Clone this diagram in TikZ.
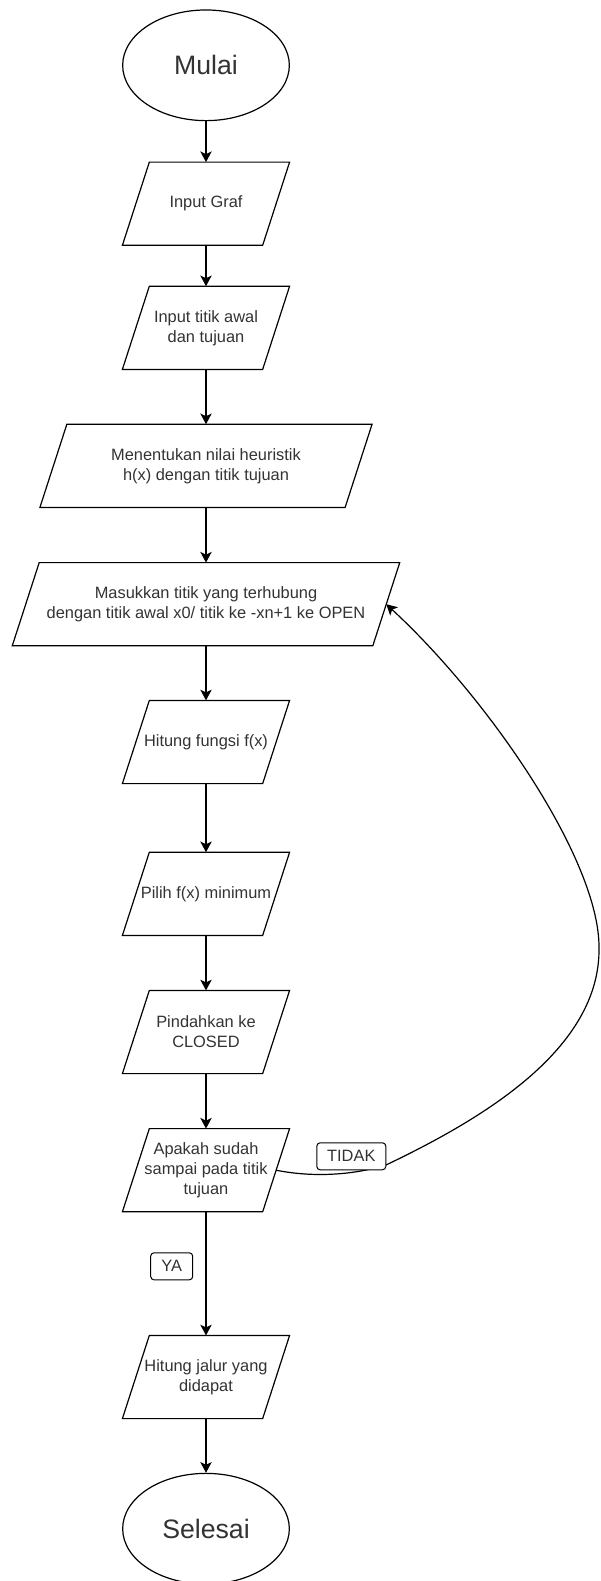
\documentclass[tikz,border=0pt]{standalone}
\usepackage{fontspec}
\setmainfont{Liberation Sans}
\usetikzlibrary{shapes.geometric,arrows.meta}
\tikzset{
  txt/.style={text=black!80, font=\fontsize{12.3pt}{15pt}\selectfont, align=center, inner sep=0pt},
  term/.style={ellipse, draw, line width=0.9pt, minimum width=125pt, minimum height=83pt, inner sep=0pt, text=black!80, font=\fontsize{20pt}{24pt}\selectfont},
  para/.style={txt, rectangle, minimum width=104.8pt, minimum height=62pt},
  wide/.style={txt, rectangle, minimum width=228.5pt, minimum height=62pt},
  wider/.style={txt, rectangle, minimum width=270pt, minimum height=62pt},
  outline/.style={line width=0.9pt, line join=miter},
  flow/.style={line width=0.9pt, -{Stealth[length=8pt, width=8.5pt, inset=2pt]}},
  lbl/.style={txt, draw, line width=0.75pt, rounded corners=2.5pt, fill=white, minimum height=20.25pt}
}
\begin{document}
\begin{tikzpicture}[x=0.75pt, y=-0.75pt]
\fill[white] (0,0) rectangle (600,1581);
\useasboundingbox (0,0) rectangle (600,1581);

\node[term] (mulai) at (206,65.3) {Mulai};
\node[para] (graf) at (206,203.7) {Input Graf};
\node[para] (titik) at (206,327.8) {Input titik awal\\dan tujuan};
\node[wide] (heur) at (206,465.8) {Menentukan nilai heuristik\\h(x) dengan titik tujuan};
\node[wider] (mas) at (206,604.2) {Masukkan titik yang terhubung\\dengan titik awal x0/ titik ke -xn+1 ke OPEN};
\node[para] (fx) at (206,742) {Hitung fungsi f(x)};
\node[para] (pilih) at (206,893.8) {Pilih f(x) minimum};
\node[para] (pind) at (206,1032) {Pindahkan ke\\CLOSED};
\node[para] (apk) at (206,1170.2) {Apakah sudah\\sampai pada titik\\tujuan};
\node[para] (jalur) at (206,1377) {Hitung jalur yang\\didapat};
\node[term] (selesai) at (206,1528.7) {Selesai};

\foreach \n in {graf,titik,heur,mas,fx,pilih,pind,apk,jalur}{
  \draw[outline] ([xshift=-10.1pt]\n.south west) -- ([xshift=-10.1pt]\n.south east)
    -- ([xshift=10.1pt]\n.north east) -- ([xshift=10.1pt]\n.north west) -- cycle;
}

\draw[flow] (mulai) -- (graf);
\draw[flow] (graf) -- (titik);
\draw[flow] (titik) -- (heur);
\draw[flow] (heur) -- (mas);
\draw[flow] (mas) -- (fx);
\draw[flow] (fx) -- (pilih);
\draw[flow] (pilih) -- (pind);
\draw[flow] (pind) -- (apk);
\draw[flow] (apk) -- (jalur);
\draw[flow] (jalur) -- (selesai);

\coordinate (c1) at (386,1165);
\coordinate (c2) at (599,947);
\draw[flow] (apk.east) .. controls (310,1177) and (350,1176) .. (c1)
  .. controls (480,1120) and (601,1050) .. (c2)
  .. controls (599,860) and (490,700) .. (mas.east);

\node[lbl, minimum width=51.75pt] (tidak) at (351.3,1156.3) {TIDAK};
\node[lbl, minimum width=31.5pt] (ya) at (171.7,1266.3) {YA};
\end{tikzpicture}
\end{document}
